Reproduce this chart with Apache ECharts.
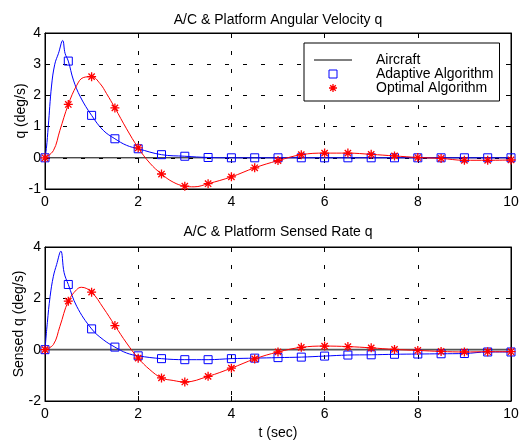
<!DOCTYPE html>
<html>
<head>
<meta charset="utf-8">
<script src="https://cdn.jsdelivr.net/npm/echarts@6/dist/echarts.min.js"></script>
<style>
  html, body { margin: 0; padding: 0; background: #fff; }
  #chart { width: 519px; height: 440px; }
</style>
</head>
<body>
<div id="chart"></div>
<script>
// Time axis (s) and responses (deg/s). Points at whole half-seconds carry markers.
const xTicks = [0, 2, 4, 6, 8, 10];

const aircraftT = [0, 10];
const aircraftQ = [0, 0];

// Angular velocity q
const adaptiveRateT = [0, 0.03, 0.07, 0.14, 0.21, 0.29, 0.38, 0.43, 0.5, 0.61, 0.76, 1.0, 1.25, 1.5, 1.75, 2.0, 2.5, 3.0, 3.5, 4.0, 4.5, 5.0, 5.5, 6.0, 6.5, 7.0, 7.5, 8.0, 8.5, 9.0, 9.5, 10.0];
const adaptiveRateQ = [0, 0.3, 1.0, 2.3, 3.0, 3.35, 3.76, 3.35, 3.1, 2.49, 1.95, 1.36, 0.88, 0.61, 0.4, 0.29, 0.1, 0.05, 0.01, 0, 0, 0, 0, 0, 0, 0, 0, 0, 0, 0, 0, 0];

const optimalRateT = [0, 0.18, 0.32, 0.5, 0.68, 0.82, 1.0, 1.18, 1.32, 1.5, 1.75, 2.0, 2.25, 2.5, 2.75, 3.0, 3.2, 3.5, 4.0, 4.5, 5.0, 5.5, 6.0, 6.5, 7.0, 7.5, 8.0, 8.5, 9.0, 9.5, 10.0];
const optimalRateQ = [0, 0.23, 0.88, 1.71, 2.32, 2.57, 2.6, 2.38, 2.06, 1.6, 0.93, 0.32, -0.17, -0.52, -0.78, -0.91, -0.93, -0.83, -0.61, -0.32, -0.09, 0.1, 0.15, 0.15, 0.11, 0.06, 0.01, -0.02, -0.08, -0.08, -0.07];

// Sensed rate q
const adaptiveSensedT = [0, 0.05, 0.11, 0.18, 0.25, 0.34, 0.41, 0.5, 0.68, 1.0, 1.25, 1.5, 1.75, 2.0, 2.5, 3.0, 3.5, 4.0, 4.5, 5.0, 5.5, 6.0, 6.5, 7.0, 7.5, 8.0, 8.5, 9.0, 9.5, 10.0];
const adaptiveSensedQ = [0, 1.05, 2.08, 2.86, 3.32, 3.84, 3.0, 2.54, 1.69, 0.81, 0.39, 0.1, -0.13, -0.24, -0.35, -0.39, -0.39, -0.35, -0.33, -0.31, -0.29, -0.25, -0.21, -0.2, -0.18, -0.17, -0.16, -0.15, -0.09, -0.09];

const optimalSensedT = [0, 0.18, 0.32, 0.5, 0.68, 0.78, 1.0, 1.25, 1.5, 1.75, 2.0, 2.25, 2.5, 2.75, 3.0, 3.5, 4.0, 4.5, 5.0, 5.5, 6.0, 6.5, 7.0, 7.5, 8.0, 8.5, 9.0, 9.5, 10.0];
const optimalSensedQ = [0, 0.2, 0.91, 1.89, 2.34, 2.43, 2.24, 1.63, 0.94, 0.26, -0.33, -0.78, -1.1, -1.2, -1.26, -1.04, -0.72, -0.36, -0.09, 0.09, 0.14, 0.12, 0.07, 0.01, -0.03, -0.07, -0.09, -0.08, -0.08];

const FONT = 'Liberation Sans, Arial, Helvetica, sans-serif';
const BLUE = '#0000ff';
const RED = '#ff0000';
const STAR = 'path://M5,0L5,10M0,5L10,5M1.5,1.5L8.5,8.5M8.5,1.5L1.5,8.5';

// Line through every sample, marker only on the half-second samples
function curve(ts, qs) {
  return ts.map((t, i) => {
    const marked = Math.abs(t * 2 - Math.round(t * 2)) < 1e-6;
    return marked ? [t, qs[i]] : { value: [t, qs[i]], symbol: 'none' };
  });
}
function pairs(ts, qs) { return ts.map((t, i) => [t, qs[i]]); }

const tickStyle = { inside: true, length: 5, lineStyle: { color: '#000', width: 1 } };
const dashGrid = { show: true, lineStyle: { color: '#000', width: 1, type: [4, 14] } };

function xAxes(grid, withName) {
  const base = {
    gridIndex: grid, type: 'value', min: 0, max: 10, interval: 2,
    axisLine: { onZero: false, lineStyle: { color: '#000', width: 1 } },
    axisTick: tickStyle
  };
  return [
    Object.assign({}, base, {
      position: 'bottom',
      axisLabel: { fontSize: 14, color: '#000', fontFamily: FONT, margin: 6 },
      splitLine: dashGrid,
      name: withName ? 't (sec)' : '',
      nameLocation: 'middle', nameGap: 25,
      nameTextStyle: { fontSize: 14, color: '#000', fontFamily: FONT }
    }),
    Object.assign({}, base, {
      position: 'top', axisLabel: { show: false }, splitLine: { show: false }
    })
  ];
}
function yAxes(grid, min, max, interval, name, gap) {
  const base = {
    gridIndex: grid, type: 'value', min: min, max: max, interval: interval,
    axisLine: { onZero: false, lineStyle: { color: '#000', width: 1 } },
    axisTick: tickStyle
  };
  return [
    Object.assign({}, base, {
      position: 'left',
      axisLabel: { fontSize: 14, color: '#000', fontFamily: FONT, margin: 4 },
      splitLine: dashGrid,
      name: name, nameLocation: 'middle', nameGap: gap, nameRotate: 90,
      nameMoveOverlap: false,
      nameTextStyle: { fontSize: 14, color: '#000', fontFamily: FONT }
    }),
    Object.assign({}, base, {
      position: 'right', axisLabel: { show: false }, splitLine: { show: false }
    })
  ];
}

function adaptiveSeries(x, y, data) {
  return {
    name: 'Adaptive Algorithm', type: 'line', xAxisIndex: x, yAxisIndex: y,
    data: data, smooth: 0.4,
    symbol: 'rect', symbolSize: 8,
    itemStyle: { color: 'rgba(0,0,0,0)', borderColor: BLUE, borderWidth: 1 },
    lineStyle: { color: BLUE, width: 1 }, z: 3, silent: true
  };
}
function optimalSeries(x, y, data) {
  return {
    name: 'Optimal Algorithm', type: 'line', xAxisIndex: x, yAxisIndex: y,
    data: data, smooth: 0.4,
    symbol: STAR, symbolSize: 9,
    itemStyle: { color: RED, borderColor: RED, borderWidth: 1.3 },
    lineStyle: { color: RED, width: 1 }, z: 4, silent: true
  };
}
function aircraftSeries(x, y, color, width) {
  return {
    name: 'Aircraft', type: 'line', xAxisIndex: x, yAxisIndex: y,
    data: pairs(aircraftT, aircraftQ), symbol: 'none',
    itemStyle: { color: color },
    lineStyle: { color: color, width: width }, z: 2, silent: true
  };
}

const gridBase = {
  left: 45, width: 466, show: true, borderColor: '#000', borderWidth: 1,
  backgroundColor: 'transparent', containLabel: false, outerBoundsMode: 'none'
};

const chart = echarts.init(document.getElementById('chart'), null, { renderer: 'canvas' });
chart.setOption({
  animation: false,
  backgroundColor: '#fff',
  textStyle: { fontFamily: FONT, color: '#000' },
  title: [
    { text: 'A/C & Platform Angular Velocity q', left: 278, top: 13, textAlign: 'center', padding: 0,
      textStyle: { fontSize: 14, fontWeight: 'normal', color: '#000', fontFamily: FONT } },
    { text: 'A/C & Platform Sensed Rate q', left: 278, top: 225, textAlign: 'center', padding: 0,
      textStyle: { fontSize: 14, fontWeight: 'normal', color: '#000', fontFamily: FONT } }
  ],
  grid: [
    Object.assign({}, gridBase, { top: 33, height: 156 }),
    Object.assign({}, gridBase, { top: 247, height: 154 })
  ],
  xAxis: xAxes(0, false).concat(xAxes(1, true)),
  yAxis: yAxes(0, -1, 4, 1, 'q (deg/s)', 17).concat(yAxes(1, -2, 4, 2, 'Sensed q (deg/s)', 19)),
  legend: {
    left: 304, top: 43, orient: 'vertical',
    itemWidth: 38, itemHeight: 10, itemGap: 0,
    padding: [10, 6, 6, 9],
    backgroundColor: '#fff', borderColor: '#000', borderWidth: 1,
    selectedMode: false,
    formatter: '{g| }{t|{name}}',
    textStyle: {
      fontSize: 14, color: '#000', fontFamily: FONT, lineHeight: 14,
      rich: {
        g: { width: 19, fontSize: 14, lineHeight: 14 },
        t: { fontSize: 14, lineHeight: 14, fontFamily: FONT, color: '#000' }
      }
    },
    data: [
      { name: 'Aircraft', itemStyle: { opacity: 0 }, lineStyle: { color: '#000', width: 1, opacity: 1 } },
      { name: 'Adaptive Algorithm', itemStyle: { color: 'rgba(0,0,0,0)', borderColor: BLUE, borderWidth: 1, opacity: 1 }, lineStyle: { opacity: 0 } },
      { name: 'Optimal Algorithm', itemStyle: { color: RED, borderColor: RED, borderWidth: 1.3, opacity: 1 }, lineStyle: { opacity: 0 } }
    ]
  },
  series: [
    aircraftSeries(0, 0, '#000', 1),
    adaptiveSeries(0, 0, curve(adaptiveRateT, adaptiveRateQ)),
    optimalSeries(0, 0, curve(optimalRateT, optimalRateQ)),
    aircraftSeries(2, 2, '#555', 1.6),
    adaptiveSeries(2, 2, curve(adaptiveSensedT, adaptiveSensedQ)),
    optimalSeries(2, 2, curve(optimalSensedT, optimalSensedQ))
  ]
});
</script>
</body>
</html>
